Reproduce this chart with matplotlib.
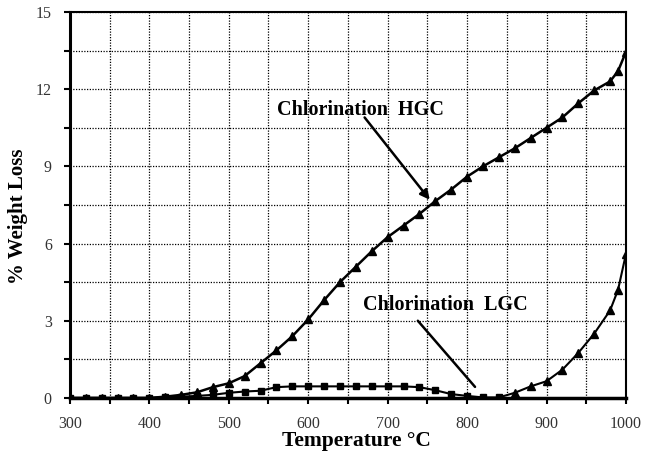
import matplotlib
matplotlib.use("Agg")
import matplotlib.pyplot as plt
from matplotlib.ticker import MultipleLocator

# data
hgc_temp = [300, 320, 340, 360, 380, 400, 420, 440, 460, 480, 500, 520, 540, 560,
            580, 600, 620, 640, 660, 680, 700, 720, 740, 760, 780, 800, 820, 840,
            860, 880, 900, 920, 940, 960, 980, 990, 1000]
hgc_loss = [0, 0, 0, 0, 0, 0, 0.05, 0.12, 0.22, 0.42, 0.57, 0.85, 1.35, 1.85,
            2.4, 3.05, 3.8, 4.5, 5.1, 5.7, 6.25, 6.7, 7.15, 7.65, 8.1, 8.6, 9.0, 9.35,
            9.7, 10.1, 10.5, 10.9, 11.45, 11.95, 12.3, 12.7, 13.45]

lgc_temp = [300, 320, 340, 360, 380, 400, 420, 440, 460, 480, 500, 520, 540, 560,
            580, 600, 620, 640, 660, 680, 700, 720, 740, 760, 780, 800, 820, 840,
            860, 880, 900, 920, 940, 960, 980, 990, 1000]
lgc_loss = [0, 0, 0, 0, 0, 0, 0.02, 0.05, 0.08, 0.12, 0.2, 0.25, 0.28, 0.42,
            0.45, 0.45, 0.45, 0.45, 0.45, 0.45, 0.45, 0.45, 0.42, 0.3, 0.15, 0.08, 0.02, 0.02,
            0.2, 0.45, 0.65, 1.1, 1.75, 2.5, 3.4, 4.2, 5.6]

plt.rcParams['font.family'] = ['Liberation Serif', 'DejaVu Serif']

fig = plt.figure(figsize=(6.47, 4.59), dpi=100)
ax = fig.add_axes([0.108, 0.133, 0.8595, 0.841])

ax.plot(hgc_temp, hgc_loss, color='black', lw=1.8, marker='^', ms=5.5, zorder=3)

# LGC: squares on the low part, triangles on the final rise
ax.plot(lgc_temp, lgc_loss, color='black', lw=1.5, zorder=3)
low = [i for i, t in enumerate(lgc_temp) if t <= 850]
high = [i for i, t in enumerate(lgc_temp) if t > 850]
ax.plot([lgc_temp[i] for i in low], [lgc_loss[i] for i in low],
        ls='none', marker='s', ms=4.5, color='black', zorder=3)
ax.plot([lgc_temp[i] for i in high], [lgc_loss[i] for i in high],
        ls='none', marker='^', ms=5.5, color='black', zorder=3)

ax.set_xlim(300, 1000)
ax.set_ylim(0, 15)
ax.xaxis.set_major_locator(MultipleLocator(100))
ax.xaxis.set_minor_locator(MultipleLocator(50))
ax.yaxis.set_major_locator(MultipleLocator(3))
ax.yaxis.set_minor_locator(MultipleLocator(1.5))
ax.grid(which='both', color='black', ls=(0, (1, 1.2)), lw=0.9)
ax.set_axisbelow(True)

ax.tick_params(which='both', direction='out', width=1.5, labelsize=11.5,
               labelcolor='#333333', pad=9)
ax.tick_params(which='major', length=4)
ax.tick_params(which='minor', length=4)
ax.spines['left'].set_linewidth(2.2)
ax.spines['bottom'].set_linewidth(2.5)
ax.spines['top'].set_linewidth(1.5)
ax.spines['right'].set_linewidth(1.5)

ax.set_xlabel('Temperature °C', fontsize=15.5, fontweight='bold')
ax.xaxis.set_label_coords(0.515, -0.085)
ax.set_ylabel('% Weight Loss', fontsize=15, fontweight='bold')
ax.yaxis.set_label_coords(-0.075, 0.47)

ax.text(666, 11.2, 'Chlorination  HGC', ha='center', va='center',
        fontsize=14.5, fontweight='bold')
ax.annotate('', xy=(753, 7.7), xytext=(671, 10.9),
            arrowprops=dict(arrowstyle='-|>', color='black', lw=1.8,
                            mutation_scale=14, shrinkA=0, shrinkB=0))
ax.text(773, 3.6, 'Chlorination  LGC', ha='center', va='center',
        fontsize=14.5, fontweight='bold')
ax.annotate('', xy=(810, 0.43), xytext=(738, 3.0),
            arrowprops=dict(arrowstyle='-', color='black', lw=1.8,
                            shrinkA=0, shrinkB=0))

fig.savefig('out.png', dpi=100)
